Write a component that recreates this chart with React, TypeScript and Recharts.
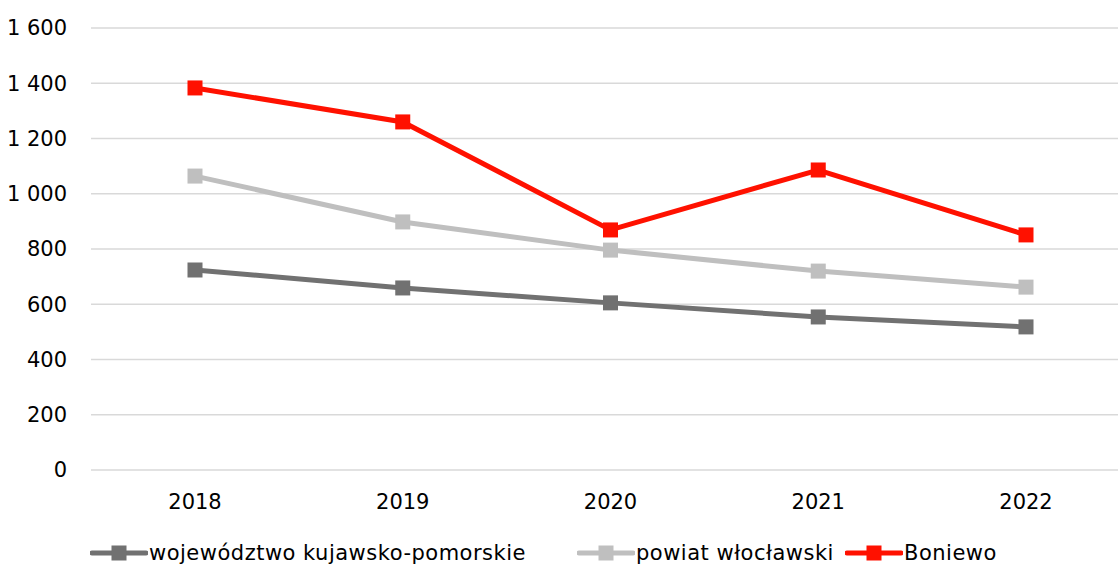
import React from 'react'
import { LineChart, Line, XAxis, YAxis, CartesianGrid, Legend } from 'recharts'

const years = ['2018', '2019', '2020', '2021', '2022']
const wojewodztwo = [724, 659, 605, 554, 518]
const powiat = [1064, 898, 796, 720, 662]
const boniewo = [1383, 1260, 869, 1086, 851]
const yTicks = [0, 200, 400, 600, 800, 1000, 1200, 1400, 1600]

const series = [
  { key: 'woj', name: 'województwo kujawsko-pomorskie', color: '#717171' },
  { key: 'pow', name: 'powiat włocławski', color: '#bfbfbf' },
  { key: 'bon', name: 'Boniewo', color: '#ff1100' },
]

const data = years.map((year, i) => ({
  year,
  woj: wojewodztwo[i],
  pow: powiat[i],
  bon: boniewo[i],
}))

const font = "'DejaVu Sans', sans-serif"

const fmt = (v: number) => (v >= 1000 ? `${Math.floor(v / 1000)} ${String(v % 1000).padStart(3, '0')}` : String(v))

const squareDot = (color: string) => (props: any) => {
  const { cx, cy, index } = props
  return <rect key={index} x={cx - 7.5} y={cy - 7.5} width={15} height={15} fill={color} />
}

// legend items sit at fixed spots like in the original
const legendLeft = [90, 577, 845]

function ChartLegend() {
  return (
    <div style={{ position: 'relative', width: 1140, height: 27, fontFamily: font, fontSize: 21, letterSpacing: 0.5, color: '#000' }}>
      {series.map((s, i) => (
        <div key={s.key} style={{ position: 'absolute', left: legendLeft[i], top: 0, display: 'flex', alignItems: 'center', whiteSpace: 'nowrap' }}>
          <svg width={58} height={16}>
            <line x1={2} y1={8} x2={56} y2={8} stroke={s.color} strokeWidth={5} strokeLinecap="round" />
            <rect x={21.5} y={0.5} width={15} height={15} fill={s.color} />
          </svg>
          <span style={{ marginLeft: 1 }}>{s.name}</span>
        </div>
      ))}
    </div>
  )
}

export default function App() {
  return (
    <div style={{ position: 'absolute', left: 0, top: 0, width: 1118, height: 565, overflow: 'hidden', background: '#fff' }}>
      <LineChart width={1140} height={565} data={data} margin={{ top: 28, right: 10, bottom: 0, left: 0 }}>
        <CartesianGrid vertical={false} stroke="#d9d9d9" strokeWidth={1.5} />
        <XAxis
          dataKey="year"
          axisLine={false}
          tickLine={false}
          tickSize={0}
          tickMargin={24}
          height={68}
          padding={{ left: 104, right: 104 }}
          tick={{ fontSize: 21, fill: '#000', fontFamily: font }}
        />
        <YAxis
          domain={[0, 1600]}
          ticks={yTicks}
          tickFormatter={fmt}
          axisLine={false}
          tickLine={false}
          tickSize={0}
          tickMargin={24}
          width={91}
          interval={0}
          tick={{ fontSize: 21, fill: '#000', fontFamily: font }}
        />
        <Legend content={() => <ChartLegend />} wrapperStyle={{ left: 0, top: 541, width: 1140 }} />
        {series.map((s) => (
          <Line
            key={s.key}
            dataKey={s.key}
            name={s.name}
            stroke={s.color}
            strokeWidth={5}
            dot={squareDot(s.color)}
            activeDot={false}
            isAnimationActive={false}
          />
        ))}
      </LineChart>
    </div>
  )
}
